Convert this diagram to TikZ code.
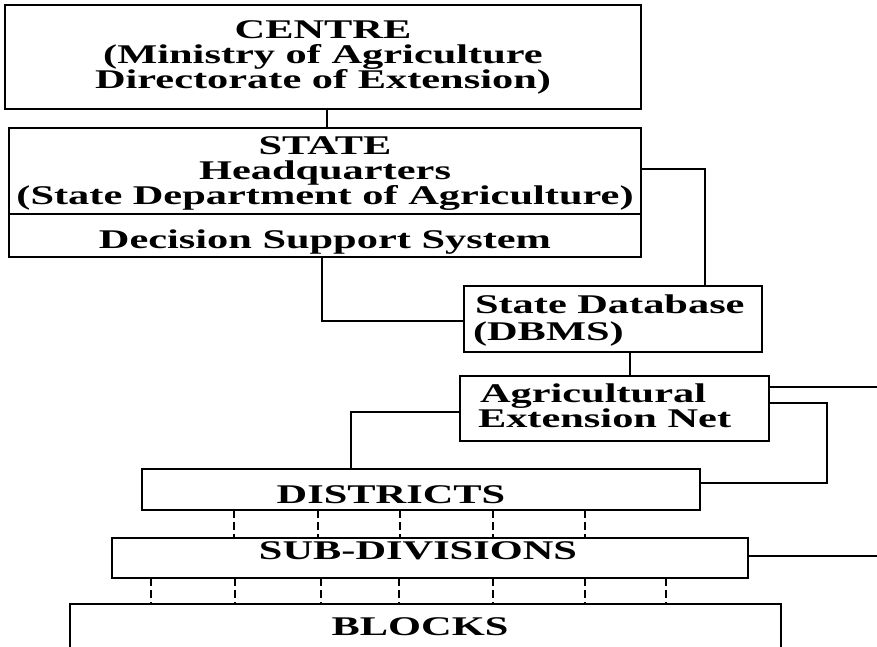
\documentclass[tikz,border=0pt]{standalone}
\usepackage{fontspec}
\setmainfont{Liberation Serif}[FakeStretch=1.57]
\begin{document}
\begin{tikzpicture}[x=1pt,y=-1pt,
  box/.style={draw, line width=1.6pt, inner sep=0pt, outer sep=0pt, anchor=north west},
  lbl/.style={inner sep=0pt, outer sep=0pt, anchor=base, font=\fontsize{27}{27}\selectfont\bfseries},
  lbll/.style={lbl, anchor=base west},
  conn/.style={line width=1.6pt},
  dashline/.style={line width=1.4pt, dash pattern=on 8pt off 4pt}]
\useasboundingbox (0,0) rectangle (877,646);
\clip (0,0) rectangle (877,646);
% boxes
\node[box, minimum width=636pt, minimum height=104pt] (centre) at (5,5) {};
\node[box, minimum width=632pt, minimum height=86pt] (state) at (9,128) {};
\node[box, minimum width=632pt, minimum height=43pt] (dss) at (9,214) {};
\node[box, minimum width=298pt, minimum height=66pt] (db) at (464,286) {};
\node[box, minimum width=309pt, minimum height=65pt] (aen) at (460,376) {};
\node[box, minimum width=558pt, minimum height=41pt] (dist) at (142,469) {};
\node[box, minimum width=636pt, minimum height=40pt] (sub) at (112,538) {};
\node[box, minimum width=711pt, minimum height=60pt] (blocks) at (70,604) {};
% labels
\node[lbl] (t1) at (323,38) {CENTRE};
\node[lbl] (t2) at (323,63) {(Ministry of Agriculture};
\node[lbl] (t3) at (323,88) {Directorate of Extension)};
\node[lbl] (t4) at (325,154) {STATE};
\node[lbl] (t5) at (325,179) {Headquarters};
\node[lbl] (t6) at (325,204) {(State Department of Agriculture)};
\node[lbl] (t7) at (325,248) {Decision Support System};
\node[lbll] (t8) at (475,313) {State Database};
\node[lbll] (t9) at (473,340) {(DBMS)};
\node[lbll] (t10) at (480,402) {Agricultural};
\node[lbll] (t11) at (478,427) {Extension Net};
\node[lbl] (t12) at (391,503) {DISTRICTS};
\node[lbl] (t13) at (418,559) {SUB-DIVISIONS};
\node[lbl] (t14) at (420,635) {BLOCKS};
% connector helpers
\coordinate (xc) at (327,0);
\coordinate (xd) at (322,0);
\coordinate (xs) at (705,0);
\coordinate (xa) at (630,0);
\coordinate (xr) at (827,0);
\coordinate (xl) at (351,0);
\coordinate (edge) at (877,0);
\coordinate (ys) at (0,169);
\coordinate (yd) at (0,321);
\coordinate (ya1) at (0,387);
\coordinate (ya2) at (0,403);
\coordinate (ya3) at (0,412);
\coordinate (yr) at (0,483);
\coordinate (ysub) at (0,556);
% connectors
\draw[conn] (xc |- centre.south) -- (xc |- state.north);
\draw[conn] (state.east |- ys) -| (xs |- db.north);
\draw[conn] (xd |- dss.south) |- (db.west |- yd);
\draw[conn] (xa |- db.south) -- (xa |- aen.north);
\draw[conn] (aen.east |- ya1) -- (edge |- ya1);
\draw[conn] (aen.east |- ya2) -| (xr |- yr) -- (dist.east |- yr);
\draw[conn] (aen.west |- ya3) -| (xl |- dist.north);
\draw[conn] (sub.east |- ysub) -- (edge |- ysub);
\foreach \x in {234,318,400,493,585}
  \draw[dashline] (\x,0 |- dist.south) -- (\x,0 |- sub.north);
\foreach \x in {151,235,321,399,493,585,666}
  \draw[dashline] (\x,0 |- sub.south) -- (\x,0 |- blocks.north);
\end{tikzpicture}
\end{document}
